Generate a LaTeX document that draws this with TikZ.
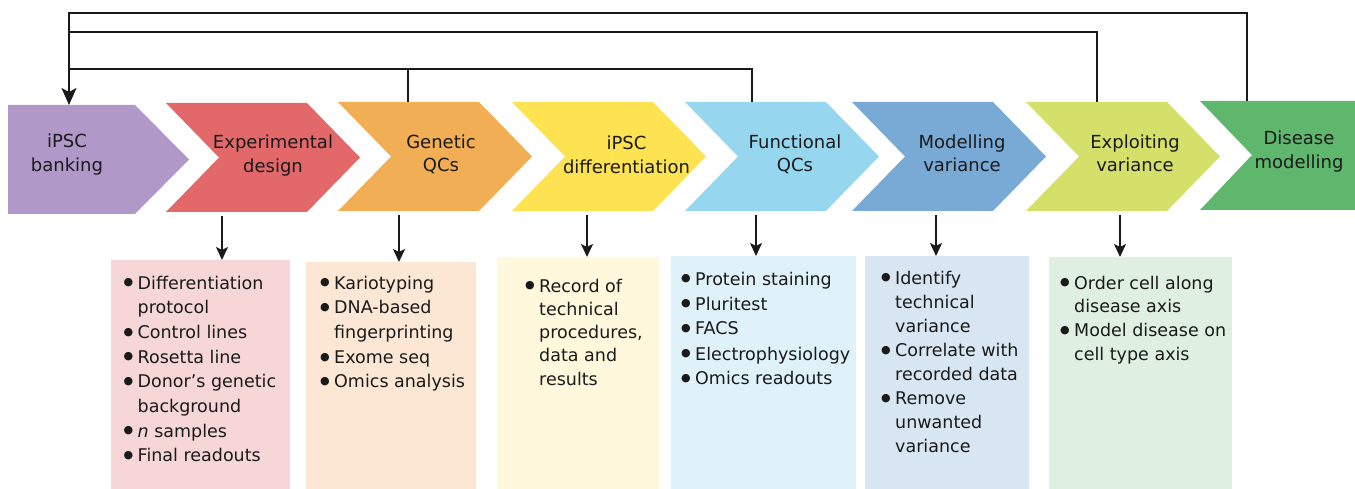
\documentclass[tikz,border=0pt]{standalone}
\usepackage{fontspec}
\setmainfont{DejaVu Sans}
\usetikzlibrary{arrows.meta}

% stage colours
\definecolor{ink}{HTML}{1A1A1A}
\definecolor{cBank}{HTML}{B098C8}
\definecolor{cExp}{HTML}{E3686A}
\definecolor{cGen}{HTML}{F2AE54}
\definecolor{cDiff}{HTML}{FDE352}
\definecolor{cFunc}{HTML}{96D7EF}
\definecolor{cMod}{HTML}{78AAD5}
\definecolor{cExpl}{HTML}{D4E06A}
\definecolor{cDis}{HTML}{5FB66D}
% panel colours
\definecolor{pExp}{HTML}{F6D6D6}
\definecolor{pGen}{HTML}{FBE7D4}
\definecolor{pDiff}{HTML}{FFF8DC}
\definecolor{pFunc}{HTML}{DFF2FA}
\definecolor{pMod}{HTML}{D8E6F3}
\definecolor{pExpl}{HTML}{DFF0E2}

% chevron: colour, left x, top y, bottom y
\newcommand\chevronshape[4]{%
  \fill[#1] (#2,#3) -- ({#2+53},{(#3+#4)/2}) -- (#2,#4) -- ({#2+141},#4)
    -- ({#2+194},{(#3+#4)/2}) -- ({#2+141},#3) -- cycle;}

% bullet list helpers
\newcommand\bl{\makebox[14pt][l]{\raisebox{3.2pt}{\fontsize{11}{0}\selectfont ●}}}
\newcommand\cn{\hspace*{14pt}}
\newcommand\itemlist[2]{\fontsize{17.5}{#1}\selectfont\begin{tabular}[t]{@{}l@{}}#2\end{tabular}}

\tikzset{
  chevlabel/.style={anchor=base, inner sep=0pt, text=ink,
    font=\fontsize{18}{23.5}\selectfont},
  itemtext/.style={anchor=base west, inner sep=0pt, text=ink},
  panel/.style={anchor=north west, inner sep=0pt, draw=none, minimum height=#1},
  flow/.style={draw=ink, line width=1.8pt,
    -{Stealth[length=13pt,width=12pt,inset=3pt]}},
  loopline/.style={draw=ink, line width=1.6pt},
  looparrow/.style={draw=ink, line width=1.6pt,
    -{Stealth[length=17pt,width=15pt,inset=4pt]}},
}

\begin{document}
\begin{tikzpicture}[x=1pt,y=-1pt]
\useasboundingbox (0,0) rectangle (1355,489);

% ---- stage chevrons ----
\fill[cBank] (8,105) -- (135,105) -- (189,159.5) -- (135,214) -- (8,214) -- cycle;
\chevronshape{cExp}{166}{103}{212}
\chevronshape{cGen}{338}{102}{211}
\chevronshape{cDiff}{512}{102}{211}
\chevronshape{cFunc}{685}{102}{211}
\chevronshape{cMod}{852}{102}{211}
\chevronshape{cExpl}{1026}{102}{211}
\fill[cDis] (1200,101) -- (1252,155) -- (1200,210) -- (1355,210) -- (1355,101) -- cycle;

% ---- stage labels ----
\node[chevlabel] (bank) at (67,148) {\begin{tabular}[t]{@{}c@{}}iPSC\\banking\end{tabular}};
\node[chevlabel] (exp)  at (273,149) {\begin{tabular}[t]{@{}c@{}}Experimental\\design\end{tabular}};
\node[chevlabel] (gen)  at (441,148.5) {\begin{tabular}[t]{@{}c@{}}Genetic\\QCs\end{tabular}};
\node[chevlabel] (diff) at (626.5,150) {\begin{tabular}[t]{@{}c@{}}iPSC\\differentiation\end{tabular}};
\node[chevlabel] (func) at (795,148.5) {\begin{tabular}[t]{@{}c@{}}Functional\\QCs\end{tabular}};
\node[chevlabel] (mod)  at (962,148.5) {\begin{tabular}[t]{@{}c@{}}Modelling\\variance\end{tabular}};
\node[chevlabel] (expl) at (1135,148.5) {\begin{tabular}[t]{@{}c@{}}Exploiting\\variance\end{tabular}};
\node[chevlabel] (dis)  at (1299,145) {\begin{tabular}[t]{@{}c@{}}Disease\\modelling\end{tabular}};

% ---- detail panels ----
\node[panel=229pt, fill=pExp,  minimum width=179pt] (pexp)  at (111,260) {};
\node[panel=227pt, fill=pGen,  minimum width=170pt] (pgen)  at (306,262) {};
\node[panel=232pt, fill=pDiff, minimum width=162pt] (pdiff) at (497,257) {};
\node[panel=233pt, fill=pFunc, minimum width=185pt] (pfunc) at (671,256) {};
\node[panel=233pt, fill=pMod,  minimum width=164pt] (pmod)  at (865,256) {};
\node[panel=232pt, fill=pExpl, minimum width=183pt] (pexpl) at (1049,257) {};

% ---- panel texts ----
\node[itemtext] (texp) at (123.5,289) {\itemlist{24.7}{%
  \bl Differentiation\\ \cn protocol\\ \bl Control lines\\ \bl Rosetta line\\
  \bl Donor’s genetic\\ \cn background\\ \bl \textit{n} samples\\ \bl Final readouts}};
\node[itemtext] (tgen) at (320,289) {\itemlist{24.75}{%
  \bl Kariotyping\\ \bl DNA-based\\ \cn fingerprinting\\ \bl Exome seq\\ \bl Omics analysis}};
\node[itemtext] (tdiff) at (525,292) {\itemlist{23.3}{%
  \bl Record of\\ \cn technical\\ \cn procedures,\\ \cn data and\\ \cn results}};
\node[itemtext] (tfunc) at (681,285) {\itemlist{25}{%
  \bl Protein staining\\ \bl Pluritest\\ \bl FACS\\ \bl Electrophysiology\\ \bl Omics readouts}};
\node[itemtext] (tmod) at (881,284) {\itemlist{24.1}{%
  \bl Identify\\ \cn technical\\ \cn variance\\ \bl Correlate with\\ \cn recorded data\\
  \bl Remove\\ \cn unwanted\\ \cn variance}};
\node[itemtext] (texpl) at (1060,289) {\itemlist{23.7}{%
  \bl Order cell along\\ \cn disease axis\\ \bl Model disease on\\ \cn cell type axis}};

% ---- stage to panel arrows ----
\coordinate (expout)  at (222,216);
\coordinate (genout)  at (399,215);
\coordinate (diffout) at (587,215);
\coordinate (funcout) at (756,215);
\coordinate (modout)  at (936,215);
\coordinate (explout) at (1120,215);
\draw[flow] (expout)  -- (expout  |- pexp.north);
\draw[flow] (genout)  -- (genout  |- pgen.north);
\draw[flow] (diffout) -- (diffout |- pdiff.north);
\draw[flow] (funcout) -- (funcout |- pfunc.north);
\draw[flow] (modout)  -- (modout  |- pmod.north);
\draw[flow] (explout) -- (explout |- pexpl.north);

% ---- feedback loops back to iPSC banking ----
\coordinate (bankin)  at (69,105);
\coordinate (gentop)  at (408,102);
\coordinate (functop) at (752,102);
\coordinate (expltop) at (1097,102);
\coordinate (distop)  at (1247,101);
\coordinate (loopA) at (69,13);
\coordinate (loopB) at (69,32);
\coordinate (loopC) at (69,69);
\draw[loopline] (distop) |- (loopA) -- (loopB);
\draw[loopline] (expltop) |- (loopB) -- (loopC);
\draw[loopline] (gentop) -- (gentop |- loopC);
\draw[looparrow] (functop) |- (loopC) -- (bankin);
\end{tikzpicture}
\end{document}
